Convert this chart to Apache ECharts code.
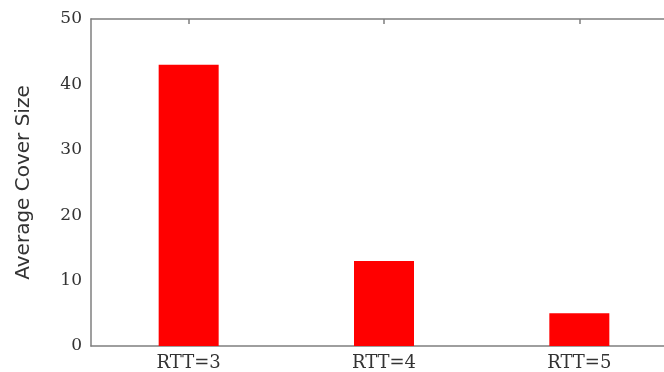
<!DOCTYPE html>
<html>
<head>
<meta charset="utf-8">
<script src="https://cdn.jsdelivr.net/npm/echarts@6/dist/echarts.min.js"></script>
<style>
  html, body { margin: 0; padding: 0; background: #fff; overflow: hidden; }
  #frame { width: 664px; height: 372px; overflow: hidden; }
  /* plot area continues a little past the right edge of the frame */
  #chart { width: 677px; height: 372px; }
</style>
</head>
<body>
<div id="frame"><div id="chart"></div></div>
<script>
// Average cover size for each RTT setting
const categories = ['RTT=3', 'RTT=4', 'RTT=5'];
const coverSize = [43, 13, 5];
const yTicks = { min: 0, max: 50, interval: 10 };

const axisGray = '#7f7f7f';
const textColor = '#333333';
const tickFont = 'DejaVu Serif';

const chart = echarts.init(document.getElementById('chart'));
chart.setOption({
  animation: false,
  backgroundColor: '#ffffff',
  grid: { left: 91, top: 19, bottom: 25, right: 0, containLabel: false },
  xAxis: [
    {
      type: 'category',
      data: categories,
      position: 'bottom',
      axisLine: { lineStyle: { color: axisGray, width: 1.5 } },
      axisTick: { show: false },
      axisLabel: { color: textColor, fontFamily: tickFont, fontSize: 18, margin: 8 }
    },
    {
      type: 'category',
      data: categories,
      position: 'top',
      axisLine: { lineStyle: { color: axisGray, width: 1.5 } },
      axisTick: { show: true, inside: true, length: 5, alignWithLabel: true, lineStyle: { color: axisGray, width: 1.5 } },
      axisLabel: { show: false }
    }
  ],
  yAxis: {
    type: 'value',
    min: yTicks.min,
    max: yTicks.max,
    interval: yTicks.interval,
    name: 'Average Cover Size',
    nameLocation: 'middle',
    nameGap: 57,
    nameTextStyle: { color: textColor, fontFamily: 'DejaVu Sans', fontSize: 20 },
    axisLine: { show: true, lineStyle: { color: axisGray, width: 1.5 } },
    axisTick: { show: false },
    splitLine: { show: false },
    axisLabel: { color: textColor, fontFamily: tickFont, fontSize: 17, margin: 9 }
  },
  series: [
    {
      type: 'bar',
      data: coverSize,
      barWidth: 60,
      itemStyle: { color: '#ff0000' }
    }
  ]
});
</script>
</body>
</html>
